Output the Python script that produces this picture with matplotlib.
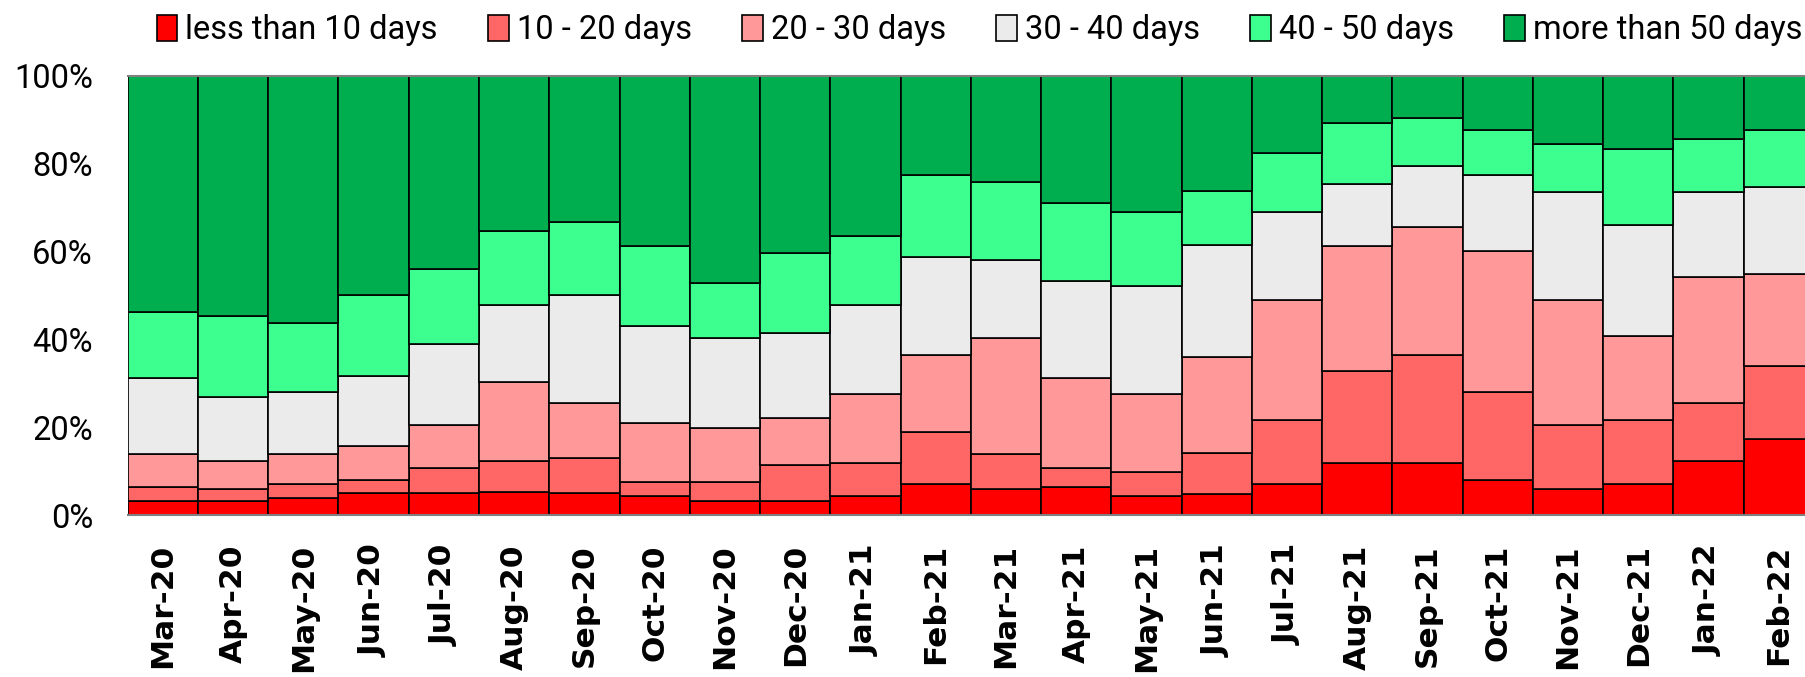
import matplotlib
matplotlib.use("Agg")
import matplotlib.pyplot as plt
import numpy as np

months = ["Mar-20", "Apr-20", "May-20", "Jun-20", "Jul-20", "Aug-20", "Sep-20", "Oct-20",
          "Nov-20", "Dec-20", "Jan-21", "Feb-21", "Mar-21", "Apr-21", "May-21", "Jun-21",
          "Jul-21", "Aug-21", "Sep-21", "Oct-21", "Nov-21", "Dec-21", "Jan-22", "Feb-22"]

less_10 = [3.3, 3.3, 3.8, 4.9, 4.9, 5.3, 4.9, 4.3, 3.1, 3.1, 4.3, 7.1,
           5.9, 6.4, 4.3, 4.7, 7.1, 11.9, 11.9, 8.0, 5.9, 7.1, 12.3, 17.3]
d10_20 = [3.1, 2.6, 3.3, 3.1, 5.9, 7.0, 8.1, 3.3, 4.4, 8.3, 7.5, 11.8,
          8.0, 4.4, 5.5, 9.4, 14.5, 20.9, 24.6, 20.0, 14.5, 14.5, 13.1, 16.6]
d20_30 = [7.5, 6.4, 6.8, 7.6, 9.6, 17.9, 12.4, 13.4, 12.3, 10.6, 15.7, 17.6,
          26.3, 20.4, 17.7, 21.8, 27.3, 28.5, 29.1, 32.1, 28.5, 19.2, 28.8, 20.9]
d30_40 = [17.3, 14.6, 14.1, 16.1, 18.5, 17.7, 24.6, 22.0, 20.4, 19.4, 20.4, 22.2,
          17.9, 22.0, 24.7, 25.5, 20.0, 14.0, 13.9, 17.3, 24.7, 25.3, 19.4, 19.8]
d40_50 = [15.0, 18.3, 15.6, 18.3, 17.0, 16.7, 16.6, 18.3, 12.6, 18.3, 15.6, 18.8,
          17.7, 17.9, 16.7, 12.4, 13.4, 14.0, 10.8, 10.2, 10.8, 17.3, 11.9, 13.0]
more_50 = [53.8, 54.8, 56.4, 50.0, 44.1, 35.4, 33.4, 38.7, 47.2, 40.3, 36.5, 22.5,
           24.2, 28.9, 31.1, 26.2, 17.7, 10.7, 9.7, 12.4, 15.6, 16.6, 14.5, 12.4]

series_names = ["less than 10 days", "10 - 20 days", "20 - 30 days",
                "30 - 40 days", "40 - 50 days", "more than 50 days"]
series_values = [less_10, d10_20, d20_30, d30_40, d40_50, more_50]
colors = ["#FF0000", "#FF6666", "#FF9999", "#EBEBEB", "#3CFF8F", "#00AE50"]
y_ticks = [0, 20, 40, 60, 80, 100]
y_tick_labels = ["0%", "20%", "40%", "60%", "80%", "100%"]

W, H = 1806, 677
fig = plt.figure(figsize=(W / 100, H / 100), dpi=100)
ax = fig.add_axes([127.7 / W, 1 - 515 / H, 24 * 70.26 / W, 439.3 / H])

label_font = ["Roboto", "DejaVu Sans"]

x = np.arange(len(months))
bottom = np.zeros(len(months))
handles = []
for name, vals, col in zip(series_names, series_values, colors):
    v = np.array(vals, dtype=float)
    b = ax.bar(x, v, width=1.0, bottom=bottom, color=col, edgecolor="black",
               linewidth=1.2, label=name)
    handles.append(b)
    bottom += v

ax.set_xlim(-0.5, len(months) - 0.5)
ax.set_ylim(0, 100)
ax.set_yticks(y_ticks)
ax.set_yticklabels(y_tick_labels, fontsize=23.5, family=label_font)
ax.set_xticks(x)
ax.set_xticklabels(months, rotation=90, fontsize=22.5, fontweight="bold",
                   family="DejaVu Sans")
ax.tick_params(axis="y", length=0, pad=25)
ax.tick_params(axis="x", length=0, pad=21)
for s in ["left", "right"]:
    ax.spines[s].set_visible(False)
for s in ["top", "bottom"]:
    ax.spines[s].set_color("#808080")
    ax.spines[s].set_linewidth(1.5)

fig.legend(handles=handles, labels=series_names, loc="center left",
           bbox_to_anchor=(157 / W, 1 - 30 / H), ncol=6, frameon=False,
           prop={"family": label_font, "size": 23.5}, handlelength=0.62,
           handleheight=0.85, handletextpad=0.25, columnspacing=1.55,
           borderpad=0, borderaxespad=0)

fig.savefig("out.png", dpi=100)
